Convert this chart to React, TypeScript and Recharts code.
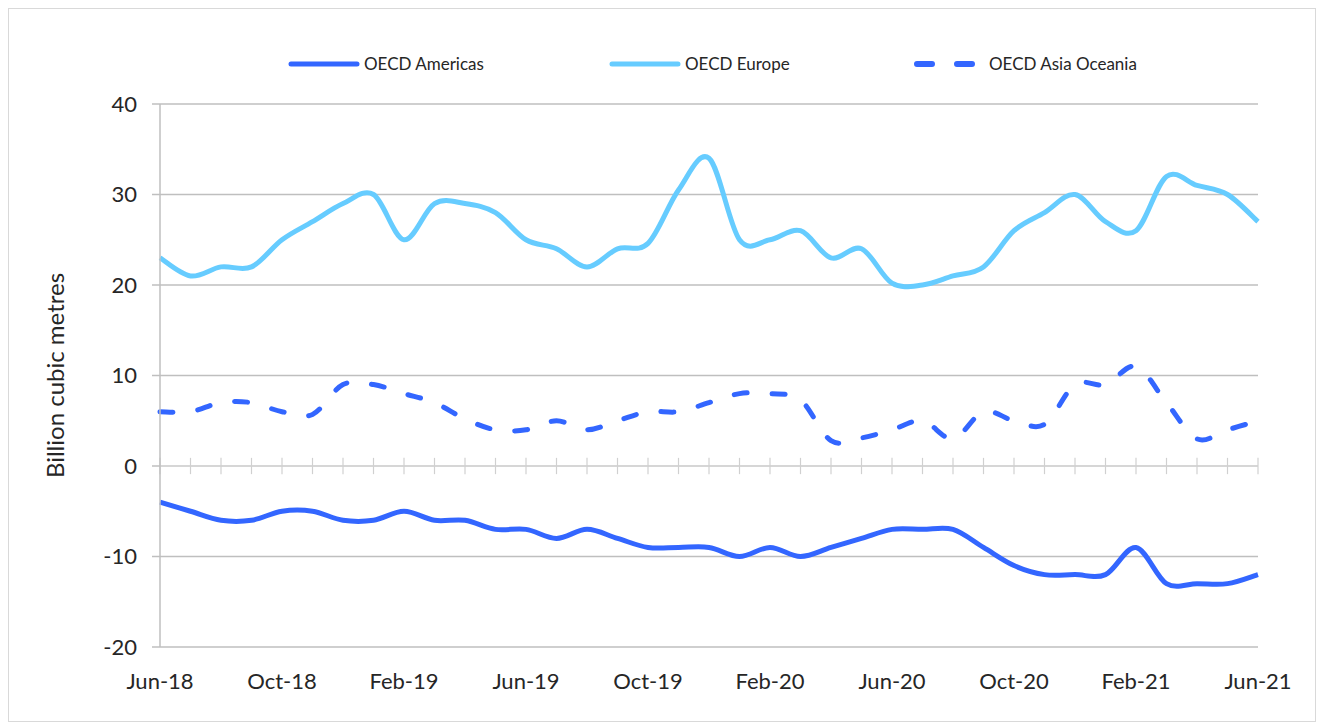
import React from "react";
import { LineChart, Line, XAxis, YAxis, CartesianGrid, ReferenceLine, Legend } from "recharts";

const months = [
  "Jun-18", "Jul-18", "Aug-18", "Sep-18", "Oct-18", "Nov-18", "Dec-18",
  "Jan-19", "Feb-19", "Mar-19", "Apr-19", "May-19", "Jun-19", "Jul-19", "Aug-19", "Sep-19", "Oct-19", "Nov-19", "Dec-19",
  "Jan-20", "Feb-20", "Mar-20", "Apr-20", "May-20", "Jun-20", "Jul-20", "Aug-20", "Sep-20", "Oct-20", "Nov-20", "Dec-20",
  "Jan-21", "Feb-21", "Mar-21", "Apr-21", "May-21", "Jun-21",
];

const americas = [-4, -5, -6, -6, -5, -5, -6, -6, -5, -6, -6, -7, -7, -8, -7, -8, -9, -9, -9, -10, -9, -10, -9, -8, -7, -7, -7, -9, -11, -12, -12, -12, -9, -13, -13, -13, -12];
const europe = [23, 21, 22, 22, 25, 27, 29, 30, 25, 29, 29, 28, 25, 24, 22, 24, 24.6, 30.5, 34, 25, 25, 26, 23, 24, 20.2, 20, 21, 22, 26, 28, 30, 27, 26, 32, 31, 30, 27];
const asiaOceania = [6, 6, 7, 7, 6, 5.7, 9, 9, 8, 7, 5.2, 4, 4, 5, 4, 5, 6, 6, 7, 8, 8, 7.3, 2.8, 3.1, 4, 5, 3, 6, 5, 4.6, 9, 9, 11, 7, 3, 4, 5];

const yTicks = [-20, -10, 0, 10, 20, 30, 40];
const seriesNames = ["OECD Americas", "OECD Europe", "OECD Asia Oceania"];

const data = months.map((m, i) => ({
  month: m,
  americas: americas[i],
  europe: europe[i],
  asia: asiaOceania[i],
}));

const FONT = "Lato, 'Open Sans', sans-serif";
const BLUE = "#3366FF";
const LIGHT = "#66CCFF";

// Excel-like smoothing (Catmull-Rom through every point)
const smoothCurve: any = (context: any) => {
  let pts: number[][] = [];
  return {
    areaStart() {},
    areaEnd() {},
    lineStart() {
      pts = [];
    },
    point(x: number, y: number) {
      pts.push([+x, +y]);
    },
    lineEnd() {
      const n = pts.length;
      if (!n) return;
      context.moveTo(pts[0][0], pts[0][1]);
      for (let i = 0; i < n - 1; i++) {
        const p0 = pts[i - 1] || pts[i];
        const p1 = pts[i];
        const p2 = pts[i + 1];
        const p3 = pts[i + 2] || p2;
        context.bezierCurveTo(
          p1[0] + (p2[0] - p0[0]) / 6,
          p1[1] + (p2[1] - p0[1]) / 6,
          p2[0] - (p3[0] - p1[0]) / 6,
          p2[1] - (p3[1] - p1[1]) / 6,
          p2[0],
          p2[1]
        );
      }
    },
  };
};

const legendItems = [
  { name: seriesNames[0], color: BLUE, dashed: false, width: 321 },
  { name: seriesNames[1], color: LIGHT, dashed: false, width: 304 },
  { name: seriesNames[2], color: BLUE, dashed: true, width: 260 },
];

const LegendContent = () => (
  <div style={{ display: "flex", paddingLeft: 279, fontFamily: FONT, fontSize: 17, color: "#262626" }}>
    {legendItems.map((it) => (
      <div key={it.name} style={{ display: "flex", alignItems: "center", width: it.width }}>
        <svg width={72} height={12} style={{ marginRight: 4 }}>
          {it.dashed ? (
            <line x1={4} y1={6} x2={68} y2={6} stroke={it.color} strokeWidth={6} strokeLinecap="round" strokeDasharray="15 25" />
          ) : (
            <line x1={3} y1={6} x2={69} y2={6} stroke={it.color} strokeWidth={5} strokeLinecap="round" />
          )}
        </svg>
        <span>{it.name}</span>
      </div>
    ))}
  </div>
);

export default function App() {
  return (
    <div style={{ width: 1306, height: 712, border: "1px solid #d9d9d9", background: "#fff" }}>
      <LineChart width={1306} height={712} data={data} margin={{ top: 74, right: 57, bottom: 0, left: 0 }}>
        <CartesianGrid vertical={false} stroke="#bfbfbf" strokeWidth={1.5} />
        <ReferenceLine y={0} stroke="#d9d9d9" strokeWidth={1.5} />
        {months.map((m) => (
          <ReferenceLine
            key={m}
            segment={[{ x: m, y: -0.9 }, { x: m, y: 0.9 }]}
            stroke="#d0d0d0"
            strokeWidth={1.2}
            ifOverflow="visible"
          />
        ))}
        <XAxis
          dataKey="month"
          interval={3}
          axisLine={false}
          tickLine={false}
          tickSize={0}
          tickMargin={26}
          height={74}
          tick={{ fontFamily: FONT, fontSize: 22, fill: "#262626" }}
        />
        <YAxis
          width={151}
          domain={[-20, 40]}
          ticks={yTicks}
          axisLine={{ stroke: "#bfbfbf", strokeWidth: 1.5 }}
          tickLine={{ stroke: "#bfbfbf", strokeWidth: 1.5 }}
          tickSize={8}
          tickMargin={15}
          tick={{ fontFamily: FONT, fontSize: 22, fill: "#262626" }}
          label={{
            value: "Billion cubic metres",
            angle: -90,
            position: "insideLeft",
            offset: 46,
            style: { textAnchor: "middle", fontFamily: FONT, fontSize: 24, fill: "#262626" },
          }}
        />
        <Legend
          verticalAlign="top"
          content={<LegendContent />}
          wrapperStyle={{ position: "absolute", top: 44, left: 0, width: 1306 }}
        />
        <Line type={smoothCurve} dataKey="europe" name={seriesNames[1]} stroke={LIGHT} strokeWidth={5} dot={false} isAnimationActive={false} />
        <Line type={smoothCurve} dataKey="asia" name={seriesNames[2]} stroke={BLUE} strokeWidth={5} strokeDasharray="13 25" strokeLinecap="round" dot={false} isAnimationActive={false} />
        <Line type={smoothCurve} dataKey="americas" name={seriesNames[0]} stroke={BLUE} strokeWidth={5} dot={false} isAnimationActive={false} />
      </LineChart>
    </div>
  );
}
